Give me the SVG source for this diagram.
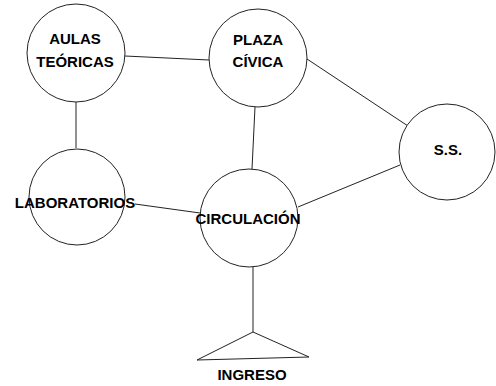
<svg xmlns="http://www.w3.org/2000/svg" width="496" height="386" viewBox="0 0 496 386">
<style>
.n{fill:#fff;stroke:#222;stroke-width:1}
.c line{stroke:#222;stroke-width:1}
text{font-family:"Liberation Sans",Arial,sans-serif;font-weight:bold;font-size:15px;fill:#000;text-anchor:middle}
</style>
<rect width="496" height="386" fill="#fff"/>
<g class="c" id="connectors">
<line x1="125" y1="56" x2="209" y2="60"/>
<line x1="76" y1="102" x2="76" y2="148"/>
<line x1="255" y1="107" x2="252" y2="169"/>
<line x1="307" y1="59" x2="408" y2="126"/>
<line x1="298" y1="207" x2="400" y2="165"/>
<line x1="135" y1="204" x2="200" y2="213"/>
<line x1="253" y1="267" x2="253" y2="332"/>
</g>
<g id="aulas">
<circle class="n" cx="76" cy="53" r="49"/>
<text x="75" y="44">AULAS</text>
<text x="75" y="67">TEÓRICAS</text>
</g>
<g id="plaza">
<circle class="n" cx="258" cy="58" r="49"/>
<text x="258" y="45">PLAZA</text>
<text x="258" y="67">CÍVICA</text>
</g>
<g id="ss">
<circle class="n" cx="447" cy="152" r="48"/>
<text x="448" y="155">S.S.</text>
</g>
<g id="laboratorios">
<circle class="n" cx="77" cy="197" r="48"/>
<text x="75" y="208">LABORATORIOS</text>
</g>
<g id="circulacion">
<circle class="n" cx="249" cy="218" r="49"/>
<text x="248" y="224">CIRCULACIÓN</text>
</g>
<g id="ingreso">
<polygon class="n" points="253,332 197,360 309,357"/>
<text x="252" y="380">INGRESO</text>
</g>
</svg>
